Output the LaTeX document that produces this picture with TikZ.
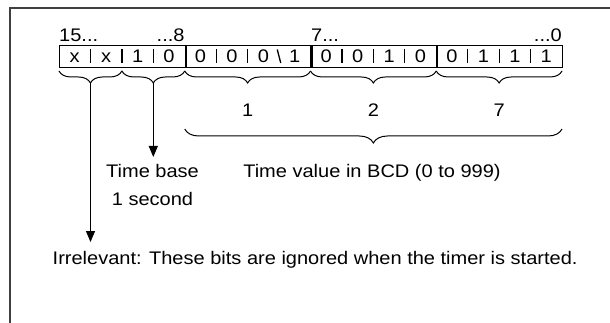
\documentclass[tikz,border=0pt]{standalone}
\usepackage{fontspec}
\setmainfont{Liberation Sans}[FakeStretch=1.1]
\usetikzlibrary{decorations.pathreplacing,arrows.meta}
\begin{document}
\begin{tikzpicture}[x=1pt,y=-1pt,
  txt/.style={font=\fontsize{18.2}{22}\selectfont, inner sep=0pt},
  nibble/.style={draw, line width=1pt, minimum width=125.75pt, minimum height=22pt, inner sep=0pt, anchor=north west},
  divider/.style={line width=2.2pt},
  sep/.style={line width=1.3pt},
  brc/.style={decorate, decoration={brace, mirror, amplitude=12pt, aspect=0.5}, line width=1pt},
  arr/.style={line width=1pt, -{Triangle[width=9pt,length=11pt]}},
  frame/.style={line width=1.6pt, draw=black!75}]
\useasboundingbox (0,0) rectangle (610,323);
% outer frame (only top and left visible)
\coordinate (fb) at (10,330);
\coordinate (fc) at (10,8);
\coordinate (fr) at (620,8);
\draw[frame] (fb) -- (fc) -- (fr);
% nibbles
\node[nibble] (n1) at (59,45) {};
\node[nibble] (n2) at (184.75,45) {};
\node[nibble] (n3) at (310.5,45) {};
\node[nibble] (n4) at (436.25,45) {};
\draw[divider] (n1.north east) -- (n1.south east);
\draw[divider] (n2.north east) -- (n2.south east);
\draw[divider] (n3.north east) -- (n3.south east);
% bit labels
\foreach \n/\a/\b/\c/\d in {n1/x/x/1/0, n2/0/0/0/1, n3/0/0/1/0, n4/0/1/1/1}{
  \node[txt, anchor=base] at ([xshift=15.7pt,yshift=-17.5pt]\n.north west) {\a};
  \node[txt, anchor=base] at ([xshift=47.1pt,yshift=-17.5pt]\n.north west) {\b};
  \node[txt, anchor=base] at ([xshift=78.6pt,yshift=-17.5pt]\n.north west) {\c};
  \node[txt, anchor=base] at ([xshift=110pt,yshift=-17.5pt]\n.north west) {\d};
  \draw[sep] ([xshift=31.4pt,yshift=-4pt]\n.north west) -- ([xshift=31.4pt,yshift=-18pt]\n.north west);
  \draw[sep] ([xshift=62.9pt,yshift=-4pt]\n.north west) -- ([xshift=62.9pt,yshift=-18pt]\n.north west);
}
\foreach \n in {n1,n3,n4}{
  \draw[sep] ([xshift=94.3pt,yshift=-4pt]\n.north west) -- ([xshift=94.3pt,yshift=-18pt]\n.north west);
}
\draw[sep] ([xshift=92.5pt,yshift=-4.5pt]n2.north west) -- ([xshift=96pt,yshift=-18pt]n2.north west);
% bit numbers
\node[txt, anchor=base west] (b15) at (59,42) {15...};
\node[txt, anchor=base east] (b8) at (184.75,42) {...8};
\node[txt, anchor=base west] (b7) at (311,42) {7...};
\node[txt, anchor=base east] (b0) at (562,42) {...0};
% small braces
\coordinate (s0) at (59,71);
\coordinate (s1) at (121.9,71);
\coordinate (s2) at (184.75,71);
\coordinate (s3) at (310.5,71);
\coordinate (s4) at (436.25,71);
\coordinate (s5) at (562,71);
\draw[brc] (s0) -- (s1);
\draw[brc] (s1) -- (s2);
\draw[brc] (s2) -- (s3);
\draw[brc] (s3) -- (s4);
\draw[brc] (s4) -- (s5);
\coordinate (t1) at (90.5,83);
\coordinate (t2) at (153.3,83);
% digits
\node[txt, anchor=base] (d1) at (247.6,117) {1};
\node[txt, anchor=base] (d2) at (373.4,117) {2};
\node[txt, anchor=base] (d7) at (499.1,117) {7};
% big brace
\coordinate (g0) at (184.75,129);
\coordinate (g1) at (562,129);
\draw[brc, decoration={brace, mirror, amplitude=14pt}] (g0) -- (g1);
% texts
\node[txt, anchor=base] (tv) at (372,178) {Time value in BCD (0 to 999)};
\node[txt, anchor=base] (tb) at (152.5,178) {Time base};
\node[txt, anchor=base] (ts) at (152.5,205) {1 second};
\node[txt, anchor=base west] (irr) at (52.5,264) {Irrelevant: These bits are ignored when the timer is started.};
% arrows
\coordinate (a2) at (153.3,157);
\coordinate (a1) at (90.5,242);
\draw[arr] (t2) -- (a2);
\draw[arr] (t1) -- (a1);
\end{tikzpicture}
\end{document}
